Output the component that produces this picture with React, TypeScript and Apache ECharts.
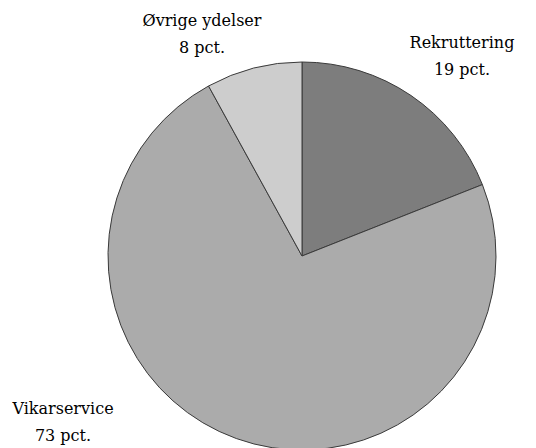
import React, { useEffect, useRef } from "react";
import * as echarts from "echarts";

const categories = ["Rekruttering", "Vikarservice", "Øvrige ydelser"];
const values = [19, 73, 8];
const sliceColors = ["#7d7d7d", "#ababab", "#cdcdcd"];
const labelAnchors: [number, number][] = [
  [462, 56],
  [63, 422],
  [202, 34],
];
const serifFont = "DejaVu Serif";

export default function App() {
  const ref = useRef<HTMLDivElement>(null);
  useEffect(() => {
    document.body.style.margin = "0";
    const chart = echarts.init(ref.current!, null, { renderer: "svg" });
    chart.setOption({
      animation: false,
      backgroundColor: "#ffffff",
      series: [
        {
          type: "pie",
          center: [302, 256],
          radius: 194,
          startAngle: 90,
          clockwise: true,
          data: categories.map((name, i) => ({
            name,
            value: values[i],
            itemStyle: { color: sliceColors[i] },
          })),
          itemStyle: { borderColor: "#3a3a3a", borderWidth: 1 },
          label: {
            show: true,
            position: "outside",
            formatter: "{b}\n{c} pct.",
            fontFamily: serifFont,
            fontSize: 16,
            lineHeight: 27,
            color: "#000",
            align: "center",
            overflow: "none",
          },
          labelLine: { show: false },
          labelLayout: (params: any) => {
            const p = labelAnchors[params.dataIndex];
            return { x: p[0], y: p[1], align: "center", verticalAlign: "middle" };
          },
          emphasis: { disabled: true },
        },
      ],
    });
    return () => chart.dispose();
  }, []);
  return <div ref={ref} style={{ width: 536, height: 448 }} />;
}
